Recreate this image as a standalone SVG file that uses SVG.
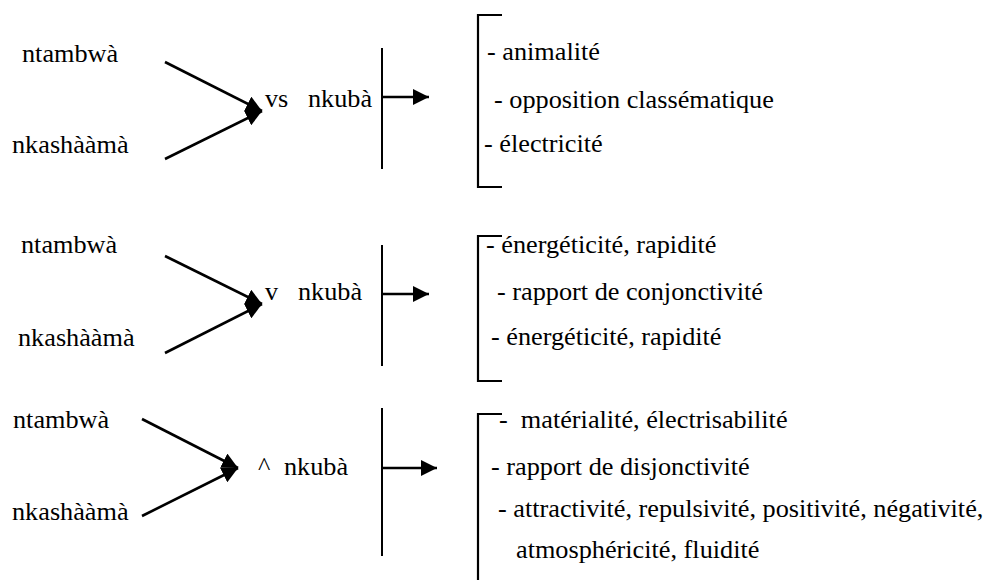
<svg xmlns="http://www.w3.org/2000/svg" width="990" height="580" viewBox="0 0 990 580">
  <style>
    text { font-family: "Liberation Serif", "Times New Roman", serif; font-size: 25px; fill: #000; white-space: pre; }
    .edge { stroke: #000; stroke-width: 2.6; fill: none; marker-end: url(#head); }
    .bar { stroke: #000; stroke-width: 2; fill: none; }
    .brace { stroke: #000; stroke-width: 2.2; fill: none; }
  </style>
  <defs>
    <marker id="head" markerUnits="userSpaceOnUse" markerWidth="16" markerHeight="16" refX="16" refY="8" orient="auto">
      <path d="M0,0 L16,8 L0,16 z" fill="#000"/>
    </marker>
  </defs>
  <rect width="990" height="580" fill="#fff"/>

  <!-- connectors -->
  <g id="connectors">
    <line class="edge" x1="165" y1="62" x2="262" y2="111"/>
    <line class="edge" x1="165" y1="159" x2="262" y2="111"/>
    <line class="edge" x1="382" y1="97" x2="429" y2="97"/>

    <line class="edge" x1="165" y1="256" x2="262" y2="304"/>
    <line class="edge" x1="165" y1="353" x2="262" y2="304"/>
    <line class="edge" x1="382" y1="294" x2="429" y2="294"/>

    <line class="edge" x1="142" y1="419" x2="238" y2="468"/>
    <line class="edge" x1="142" y1="516" x2="238" y2="468"/>
    <line class="edge" x1="382" y1="468" x2="437" y2="468"/>
  </g>

  <!-- first group -->
  <g id="a-ntambwa"><text transform="translate(22 62) scale(1.05 1)">ntambwà</text></g>
  <g id="a-nkashaama"><text transform="translate(12 153) scale(1.05 1)">nkashààmà</text></g>
  <g id="a-nkuba">
    <text transform="translate(265 107) scale(1.05 1)">vs</text>
    <text transform="translate(308 107) scale(1.05 1)">nkubà</text>
    <line class="bar" x1="382" y1="48" x2="382" y2="169"/>
  </g>
  <g id="a-traits">
    <path class="brace" d="M502,15 H478 V187 H502"/>
    <text transform="translate(487 60) scale(1.05 1)">- animalité</text>
    <text transform="translate(494 108) scale(1.05 1)">- opposition classématique</text>
    <text transform="translate(484 152) scale(1.05 1)">- électricité</text>
  </g>

  <!-- second group -->
  <g id="b-ntambwa"><text transform="translate(21 253) scale(1.05 1)">ntambwà</text></g>
  <g id="b-nkashaama"><text transform="translate(18 346) scale(1.05 1)">nkashààmà</text></g>
  <g id="b-nkuba">
    <text transform="translate(265 300) scale(1.05 1)">v</text>
    <text transform="translate(298 300) scale(1.05 1)">nkubà</text>
    <line class="bar" x1="382" y1="245" x2="382" y2="366"/>
  </g>
  <g id="b-traits">
    <path class="brace" d="M502,236 H478 V381 H502"/>
    <text transform="translate(486 253) scale(1.05 1)">- énergéticité, rapidité</text>
    <text transform="translate(497 300) scale(1.05 1)">- rapport de conjonctivité</text>
    <text transform="translate(491 345) scale(1.05 1)">- énergéticité, rapidité</text>
  </g>

  <!-- third group -->
  <g id="c-ntambwa"><text transform="translate(13 428) scale(1.05 1)">ntambwà</text></g>
  <g id="c-nkashaama"><text transform="translate(12 520) scale(1.05 1)">nkashààmà</text></g>
  <g id="c-nkuba">
    <text transform="translate(258 475) scale(1.05 1)">^</text>
    <text transform="translate(284 475) scale(1.05 1)">nkubà</text>
    <line class="bar" x1="382" y1="408" x2="382" y2="556"/>
  </g>
  <g id="c-traits">
    <path class="brace" d="M502,414 H478 V580"/>
    <text transform="translate(499 428) scale(1.05 1)">-  matérialité, électrisabilité</text>
    <text transform="translate(491 475) scale(1.05 1)">- rapport de disjonctivité</text>
    <text transform="translate(498 517) scale(1.05 1)">- attractivité, repulsivité, positivité, négativité,</text>
    <text transform="translate(516 558) scale(1.05 1)">atmosphéricité, fluidité</text>
  </g>
</svg>
